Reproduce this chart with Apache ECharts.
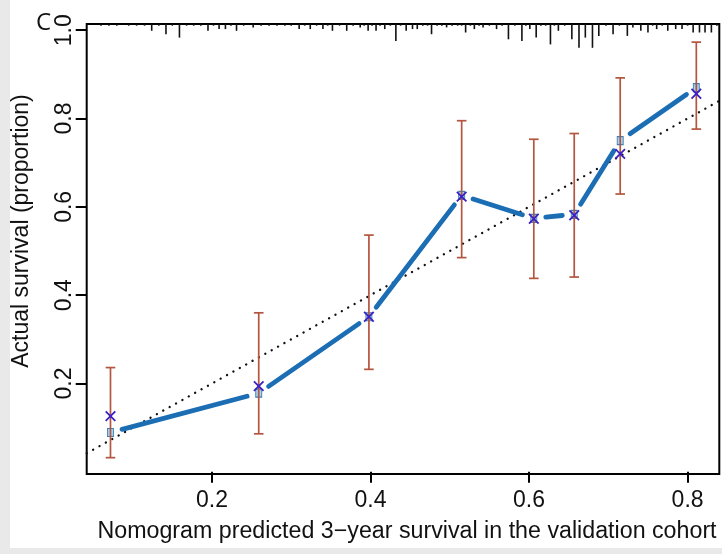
<!DOCTYPE html>
<html><head><meta charset="utf-8">
<script src="https://cdn.jsdelivr.net/npm/echarts@6/dist/echarts.min.js"></script>
<style>
html,body{margin:0;padding:0;background:#e9e9e9;width:722px;height:554px;overflow:hidden;}
#chart{position:absolute;left:10px;top:0;width:712px;height:548px;background:#fff;}
</style></head><body>
<div id="chart"></div>
<script>
// ---- data ----
const xPred     = [0.072, 0.259, 0.398, 0.515, 0.606, 0.657, 0.715, 0.811];
const observed  = [0.089, 0.178, 0.351, 0.626, 0.574, 0.583, 0.750, 0.870];
const corrected = [0.126, 0.194, 0.351, 0.623, 0.573, 0.581, 0.720, 0.856];
const lower     = [0.032, 0.086, 0.232, 0.485, 0.438, 0.441, 0.629, 0.776];
const upper     = [0.236, 0.360, 0.536, 0.795, 0.753, 0.766, 0.892, 0.973];
const xTicks = [0.2, 0.4, 0.6, 0.8];
const yTicks = [0.2, 0.4, 0.6, 0.8, 1.0];
const rugX = [0.060,0.070,0.080,0.095,0.105,0.115,0.124,0.133,0.142,0.150,0.159,0.168,0.177,0.186,0.195,0.202,0.209,0.217,0.224,0.231,0.240,0.252,0.262,0.272,0.282,0.292,0.300,0.310,0.317,0.324,0.332,0.340,0.346,0.352,0.361,0.370,0.378,0.387,0.392,0.397,0.402,0.407,0.412,0.418,0.425,0.432,0.438,0.445,0.453,0.459,0.466,0.472,0.477,0.484,0.490,0.496,0.503,0.510,0.515,0.520,0.526,0.531,0.537,0.542,0.550,0.559,0.566,0.574,0.582,0.591,0.596,0.601,0.609,0.615,0.621,0.627,0.632,0.637,0.645,0.654,0.663,0.671,0.680,0.688,0.697,0.706,0.714,0.724,0.731,0.741,0.750,0.756,0.761,0.768,0.775,0.785,0.793,0.800,0.807,0.815,0.822,0.830,0.837];
const rugN = [1,1,1,1,1,1,4,1,6,1,8,1,1,1,4,1,3,3,1,4,1,2,1,1,1,1,1,3,1,3,1,3,1,4,1,4,1,2,1,4,1,4,1,3,1,10,1,4,3,3,1,1,6,1,1,2,1,1,1,5,1,3,1,2,1,3,1,9,1,10,1,3,8,1,1,12,1,4,1,9,14,8,14,7,1,6,1,7,2,4,5,1,3,1,4,3,3,1,5,5,5,5,1];

const X_MIN = 0.042, X_MAX = 0.84, Y_MIN = -0.005, Y_MAX = 1.014;
const FONT = 'Liberation Sans, Arial, Helvetica, sans-serif';

const chart = echarts.init(document.getElementById('chart'));

const segData = [];
for (let i = 0; i < xPred.length - 1; i++) segData.push([xPred[i], observed[i], xPred[i+1], observed[i+1]]);

chart.setOption({
  animation: false,
  grid: {left: 76.7, right: 2.7, top: 24, bottom: 74, show: true, borderColor: '#000', borderWidth: 2, backgroundColor: 'transparent'},
  xAxis: {
    type: 'value', min: X_MIN, max: X_MAX,
    axisLine: {show: false}, splitLine: {show: false},
    axisTick: {show: true, customValues: xTicks, length: 11, lineStyle: {color: '#000', width: 2}},
    axisLabel: {customValues: xTicks, formatter: v => v.toFixed(1), fontSize: 23, color: '#111', margin: 15, fontFamily: FONT}
  },
  yAxis: {
    type: 'value', min: Y_MIN, max: Y_MAX,
    axisLine: {show: false}, splitLine: {show: false},
    axisTick: {show: true, customValues: yTicks, length: 11, lineStyle: {color: '#000', width: 2}},
    axisLabel: {customValues: yTicks, formatter: v => v.toFixed(1), fontSize: 23, color: '#111', margin: 11, rotate: 90, fontFamily: FONT}
  },
  graphic: [
    {type: 'text', x: 26, y: 11, style: {text: 'C', fontSize: 24, fontFamily: 'Open Sans', fill: '#111'}},
    {type: 'text', x: 397, y: 532, scaleX: 1.01, style: {text: 'Nomogram predicted 3\u2212year survival in the validation cohort', fontSize: 23, fontFamily: FONT, fill: '#111', align: 'center', verticalAlign: 'middle'}},
    {type: 'text', x: 12, y: 231, rotation: Math.PI / 2, style: {text: 'Actual survival (proportion)', fontSize: 23, fontFamily: FONT, fill: '#111', align: 'center', verticalAlign: 'middle'}}
  ],
  series: [
    { // ideal diagonal
      type: 'line', data: [[X_MIN, X_MIN], [X_MAX, X_MAX]], symbol: 'none', silent: true, z: 1,
      lineStyle: {color: '#111', width: 2.3, type: [0.1, 7.2], cap: 'round'}
    },
    { // rug
      type: 'custom', z: 3, silent: true,
      data: rugX.map((x, i) => [x, rugN[i]]),
      encode: {x: 0},
      renderItem(params, api) {
        const p = api.coord([api.value(0), Y_MAX]);
        const h = api.value(1) * 1.7;
        return {type: 'line', shape: {x1: p[0], y1: p[1], x2: p[0], y2: p[1] + h}, style: {stroke: '#111', lineWidth: 1.6}};
      }
    },
    { // blue calibration line with gaps
      type: 'custom', z: 4, silent: true,
      data: segData, encode: {x: [0, 2], y: [1, 3]},
      renderItem(params, api) {
        const a = api.coord([api.value(0), api.value(1)]);
        const b = api.coord([api.value(2), api.value(3)]);
        const dx = b[0] - a[0], dy = b[1] - a[1], L = Math.hypot(dx, dy), g = 12;
        const ux = dx / L, uy = dy / L;
        return {type: 'line', shape: {x1: a[0] + ux * g, y1: a[1] + uy * g, x2: b[0] - ux * g, y2: b[1] - uy * g},
          style: {stroke: '#1b6db4', lineWidth: 4.8, lineCap: 'round'}};
      }
    },
    { // observed squares
      type: 'scatter', z: 5, silent: true, symbol: 'rect', symbolSize: [6, 8],
      data: xPred.map((x, i) => [x, observed[i]]),
      itemStyle: {color: '#a9d0ea', borderColor: '#3c7fb3', borderWidth: 1, opacity: 1}
    },
    { // error bars
      type: 'custom', z: 6, silent: true,
      data: xPred.map((x, i) => [x, lower[i], upper[i]]), encode: {x: 0, y: [1, 2]},
      renderItem(params, api) {
        const lo = api.coord([api.value(0), api.value(1)]);
        const hi = api.coord([api.value(0), api.value(2)]);
        const w = 4.8, st = {stroke: '#b4553f', lineWidth: 1.7};
        return {type: 'group', children: [
          {type: 'line', shape: {x1: lo[0], y1: lo[1], x2: hi[0], y2: hi[1]}, style: st},
          {type: 'line', shape: {x1: lo[0] - w, y1: lo[1], x2: lo[0] + w, y2: lo[1]}, style: st},
          {type: 'line', shape: {x1: hi[0] - w, y1: hi[1], x2: hi[0] + w, y2: hi[1]}, style: st}
        ]};
      }
    },
    { // bias-corrected X marks
      type: 'custom', z: 7, silent: true,
      data: xPred.map((x, i) => [x, corrected[i]]), encode: {x: 0, y: 1},
      renderItem(params, api) {
        const p = api.coord([api.value(0), api.value(1)]);
        const s = 4.8, st = {stroke: '#3a20c2', lineWidth: 1.8};
        return {type: 'group', children: [
          {type: 'line', shape: {x1: p[0] - s, y1: p[1] - s, x2: p[0] + s, y2: p[1] + s}, style: st},
          {type: 'line', shape: {x1: p[0] - s, y1: p[1] + s, x2: p[0] + s, y2: p[1] - s}, style: st}
        ]};
      }
    }
  ]
});
</script>
</body></html>
